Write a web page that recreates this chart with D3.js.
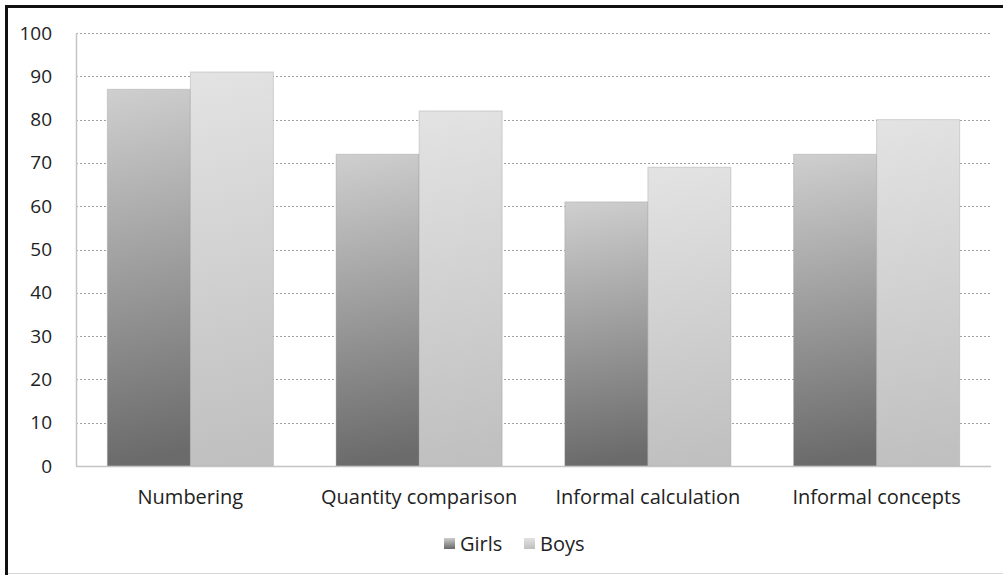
<!DOCTYPE html>
<html>
<head>
<meta charset="utf-8">
<script src="https://cdn.jsdelivr.net/npm/d3@7"></script>
<style>
  body { margin: 0; background: #fff; }
  text { font-family: "Open Sans", "Liberation Sans", sans-serif; fill: #222; }
</style>
</head>
<body>
<div id="chart"></div>
<script>
// data
var categories = ["Numbering", "Quantity comparison", "Informal calculation", "Informal concepts"];
var seriesNames = ["Girls", "Boys"];
var girls = [87, 72, 61, 72];
var boys = [91, 82, 69, 80];
var yTicks = [0, 10, 20, 30, 40, 50, 60, 70, 80, 90, 100];

var W = 1003, H = 575;
var margin = {top: 33, right: 12, bottom: 109, left: 76},
    width = W - margin.left - margin.right,
    height = H - margin.top - margin.bottom;

var svg = d3.select("#chart").append("svg")
    .attr("width", W)
    .attr("height", H);

// gradients for the bars (Excel style)
var defs = svg.append("defs");
var grads = [
  {id: "gGirls", top: "#cfcfcf", bottom: "#6b6b6b"},
  {id: "gBoys", top: "#e3e3e3", bottom: "#c0c0c0"}
];
grads.forEach(function (g) {
  var lg = defs.append("linearGradient").attr("id", g.id)
      .attr("x1", 0).attr("y1", 0).attr("x2", 0.05).attr("y2", 1);
  lg.append("stop").attr("offset", "0%").attr("stop-color", g.top);
  lg.append("stop").attr("offset", "100%").attr("stop-color", g.bottom);
});

// frame
svg.append("rect").attr("x", 0).attr("y", 0).attr("width", W).attr("height", H).attr("fill", "#fff");
svg.append("line").attr("x1", 5).attr("x2", W).attr("y1", 6.5).attr("y2", 6.5)
    .attr("stroke", "#111").attr("stroke-width", 3);
svg.append("line").attr("x1", 6.5).attr("x2", 6.5).attr("y1", 5).attr("y2", H)
    .attr("stroke", "#111").attr("stroke-width", 3);
svg.append("line").attr("x1", 8).attr("x2", W).attr("y1", 573.5).attr("y2", 573.5)
    .attr("stroke", "#d8d8d8").attr("stroke-width", 1);

var g = svg.append("g").attr("transform", "translate(" + margin.left + "," + margin.top + ")");

var x0 = d3.scaleBand().domain(categories).range([0, width]).padding(0);
var x1 = d3.scaleBand().domain(seriesNames)
    .range([x0.bandwidth() * 0.137, x0.bandwidth() * 0.863]).padding(0);
var y = d3.scaleLinear().domain([0, 100]).range([height, 0]);

// gridlines
g.selectAll(".grid").data(yTicks.slice(1)).enter().append("line")
    .attr("x1", 0).attr("x2", width)
    .attr("y1", function (d) { return Math.round(y(d)) + 0.5; })
    .attr("y2", function (d) { return Math.round(y(d)) + 0.5; })
    .attr("stroke", "#a0a0a0").attr("stroke-dasharray", "2,2");

// bars
var rows = categories.map(function (c, i) {
  return {cat: c, vals: [{s: "Girls", v: girls[i]}, {s: "Boys", v: boys[i]}]};
});
var grp = g.selectAll(".grp").data(rows).enter().append("g")
    .attr("transform", function (d) { return "translate(" + x0(d.cat) + ",0)"; });
grp.selectAll("rect").data(function (d) { return d.vals; }).enter().append("rect")
    .attr("x", function (d) { return x1(d.s); })
    .attr("width", x1.bandwidth())
    .attr("y", function (d) { return y(d.v); })
    .attr("height", function (d) { return height - y(d.v); })
    .attr("fill", function (d) { return d.s === "Girls" ? "url(#gGirls)" : "url(#gBoys)"; })
    .attr("stroke", "rgba(150,150,150,0.35)")
    .attr("stroke-width", 1);

// axes lines
g.append("line").attr("x1", 0.5).attr("x2", 0.5).attr("y1", 0).attr("y2", height)
    .attr("stroke", "#c4c4c4").attr("stroke-width", 1.5);
g.append("line").attr("x1", 0).attr("x2", width).attr("y1", height + 0.5).attr("y2", height + 0.5)
    .attr("stroke", "#c4c4c4").attr("stroke-width", 1.5);

// y axis labels
var yAxis = d3.axisLeft(y).tickValues(yTicks).tickSize(0).tickPadding(24);
var ya = g.append("g").call(yAxis);
ya.select(".domain").remove();
ya.selectAll("text").style("font-size", "19px").attr("fill", "#222");

// x axis labels
var xAxis = d3.axisBottom(x0).tickSize(0).tickPadding(24);
var xa = g.append("g").attr("transform", "translate(0," + height + ")").call(xAxis);
xa.select(".domain").remove();
xa.selectAll("text").style("font-size", "20px").attr("fill", "#222");

// legend
var legend = svg.append("g").attr("transform", "translate(444,544)");
var lx = [0, 80];
seriesNames.forEach(function (s, i) {
  var item = legend.append("g").attr("transform", "translate(" + lx[i] + ",0)");
  item.append("rect").attr("x", 0).attr("y", -6).attr("width", 11).attr("height", 11)
      .attr("fill", i === 0 ? "url(#gGirls)" : "url(#gBoys)");
  item.append("text").attr("x", 16).attr("y", 0).attr("dy", "0.35em")
      .style("font-size", "20px").text(s);
});
</script>
</body>
</html>
